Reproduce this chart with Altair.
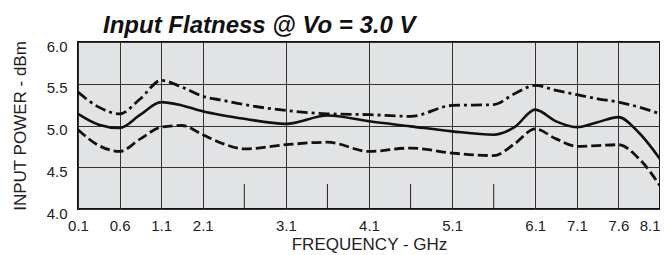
import altair as alt
import pandas as pd

# ---- data ----
freq = [0.1, 0.35, 0.6, 0.85, 1.1, 1.6, 2.1, 2.35, 2.6, 3.1, 3.6, 4.1,
        4.6, 5.1, 5.6, 5.85, 6.1, 6.6, 7.1, 7.35, 7.6, 7.85, 8.1]
typical = [5.14, 5.01, 4.97, 5.13, 5.28, 5.24, 5.17, 5.12, 5.08, 5.02, 5.12, 5.05,
           4.99, 4.93, 4.89, 4.98, 5.19, 5.05, 4.98, 5.04, 5.10, 4.91, 4.60]
maximum = [5.40, 5.22, 5.14, 5.32, 5.54, 5.46, 5.35, 5.30, 5.25, 5.18, 5.14, 5.13,
           5.11, 5.24, 5.25, 5.38, 5.48, 5.42, 5.37, 5.32, 5.28, 5.22, 5.14]
minimum = [4.95, 4.76, 4.69, 4.84, 4.98, 5.00, 4.89, 4.78, 4.72, 4.77, 4.80, 4.69,
           4.73, 4.67, 4.64, 4.78, 4.96, 4.84, 4.75, 4.76, 4.77, 4.60, 4.28]

x_ticks = [0.1, 0.6, 1.1, 2.1, 3.1, 4.1, 5.1, 6.1, 7.1, 7.6, 8.1]
x_slots = [0, 1, 2, 3, 5, 7, 9, 11, 12, 13, 14]
minor_ticks = [2.6, 3.6, 4.6, 5.6]
y_ticks = [4.0, 4.5, 5.0, 5.5, 6.0]

W, H = 582, 167
step = W / 14
x_range = [s * step for s in x_slots]

FONT = "Liberation Sans"

df = pd.DataFrame({
    "freq": freq * 3,
    "power": typical + maximum + minimum,
    "series": ["typ"] * len(freq) + ["max"] * len(freq) + ["min"] * len(freq),
})
ticks_df = pd.DataFrame({"freq": minor_ticks, "lo": [4.0] * 4, "hi": [4.3] * 4})

xscale = alt.Scale(domain=x_ticks, range=x_range, nice=False, zero=False)
yscale = alt.Scale(domain=[4.0, 6.0], nice=False, zero=False)

xaxis = alt.Axis(values=x_ticks, format=".1f", title="FREQUENCY - GHz",
                 labelFlush=False, tickSize=0, domain=False,
                 labelAlign=alt.ExprRef(expr="datum.value >= 8.05 ? 'right' : 'center'"),
                 labelFontSize=15, labelPadding=9, titleFontSize=17,
                 titleBaseline="alphabetic", titleY=40,
                 titleFontWeight="normal", grid=True)
yaxis = alt.Axis(values=y_ticks, format=".1f", title="INPUT POWER - dBm",
                 labelFlush=False, tickSize=0, domain=False,
                 labelFontSize=15, labelPadding=11, labelBaseline="top",
                 labelOffset=-3, titleFontSize=17, titlePadding=17,
                 titleFontWeight="normal", grid=True)

X = alt.X("freq:Q", scale=xscale, axis=xaxis)
Y = alt.Y("power:Q", scale=yscale, axis=yaxis)

def series_line(name, dash, width):
    props = dict(color="#111", strokeWidth=width, interpolate="monotone", strokeCap="butt")
    if dash:
        props["strokeDash"] = dash
    return (alt.Chart(df).transform_filter(alt.datum.series == name)
            .mark_line(**props).encode(x=X, y=Y))

minor = alt.Chart(ticks_df).mark_rule(color="#222", strokeWidth=1).encode(
    x=alt.X("freq:Q", scale=xscale, axis=xaxis),
    y=alt.Y("lo:Q", scale=yscale, axis=yaxis),
    y2="hi:Q",
)

chart = alt.layer(
    minor,
    series_line("max", [11, 4, 3, 4], 2.8),
    series_line("min", [10, 4], 2.8),
    series_line("typ", None, 2.6),
).properties(
    width=W, height=H,
    padding={"left": 70, "top": 34, "right": 0, "bottom": 46},
    autosize=alt.AutoSizeParams(type="none"),
    title=alt.TitleParams("Input Flatness @ Vo = 3.0 V", anchor="start", frame="group",
                          dx=25, dy=7, offset=8,
                          font=FONT, fontSize=24, fontStyle="italic",
                          fontWeight="bold", color="#111"),
).configure_view(
    fill="#e2e3e5", stroke="#111", strokeWidth=2
).configure_axis(
    gridColor="#333", gridWidth=1, gridOpacity=1,
    labelColor="#222", titleColor="#222",
    labelFont=FONT, titleFont=FONT,
)

chart.save("out.html", embed_options={"renderer": "svg", "actions": False})
